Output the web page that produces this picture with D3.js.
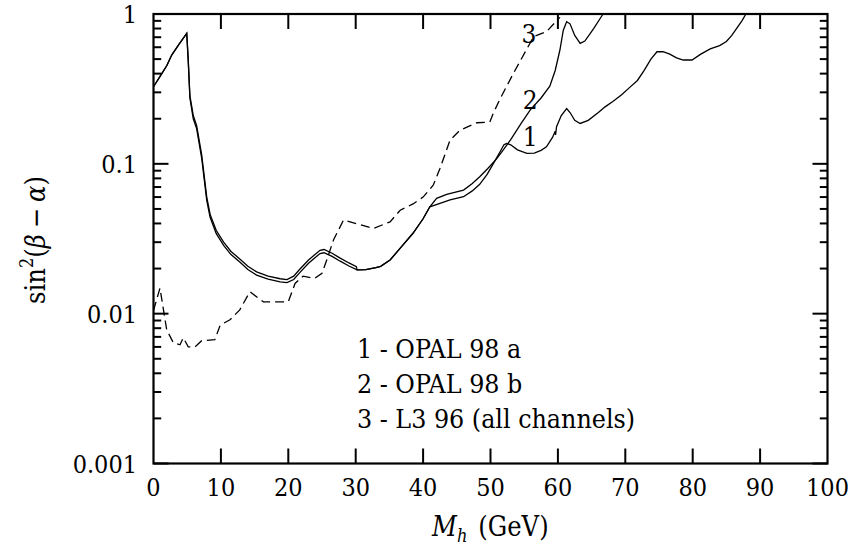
<html>
<head>
<style>
  body { margin: 0; background: #fff; }
  svg text { font-family: "DejaVu Serif Condensed", "DejaVu Serif", serif; }
</style>
</head>
<body>
<script src="https://cdn.jsdelivr.net/npm/d3@7/dist/d3.min.js"></script>
<script>
// tick values / labels
var xTicks = [0, 10, 20, 30, 40, 50, 60, 70, 80, 90, 100];
var yTicks = [0.001, 0.01, 0.1, 1];
var yTickLabels = ["0.001", "0.01", "0.1", "1"];

// curve 1 - OPAL 98 a
var opalAx = [0, 1, 2, 2.7, 3.8, 4.93, 5.15, 5.4, 5.9, 6.4, 7.15, 7.9, 8.4, 9.3, 10.4, 11.5, 12.8, 14, 15.3, 17, 18.8, 19.8, 20.8, 21.7, 23, 24.7, 25.3, 26.5, 27.7, 29, 30.2,
  31.5, 33, 33.7, 35.1, 36.8, 38.5, 40, 41, 42.5, 44, 46, 47.3, 48.4, 49.5, 50.4, 51.4, 52, 52.4, 53, 54, 55.4, 56.5, 57.5, 58.3, 59.2, 59.6, 59.65, 59.8,
  60.5, 61.3, 61.8, 62.5, 63.3, 64.5, 66, 67, 68.2, 69.5, 70.7, 71.8, 72.8, 73.8, 74.7, 75.6, 76.6, 77.6, 78.6, 79.9, 81.2, 82.6, 84, 85, 85.8, 86.5, 87.3, 87.9];
var opalAy = [0.327, 0.385, 0.455, 0.532, 0.63, 0.743, 0.49, 0.275, 0.2, 0.172, 0.109, 0.057, 0.044, 0.0343, 0.0286, 0.0248, 0.0221, 0.0197, 0.0181, 0.017, 0.0163, 0.0161, 0.0169, 0.0188, 0.0217, 0.0252, 0.0255, 0.0241, 0.0224, 0.0208, 0.0196,
  0.0197, 0.0203, 0.0207, 0.0228, 0.028, 0.0344, 0.043, 0.0517, 0.0545, 0.0575, 0.0603, 0.066, 0.073, 0.085, 0.1, 0.12, 0.134, 0.137, 0.134, 0.124, 0.1175, 0.118, 0.123, 0.13, 0.15, 0.165, 0.156, 0.177,
  0.21, 0.234, 0.22, 0.195, 0.186, 0.195, 0.22, 0.24, 0.262, 0.29, 0.325, 0.36, 0.42, 0.5, 0.56, 0.56, 0.54, 0.51, 0.493, 0.493, 0.54, 0.585, 0.615, 0.655, 0.72, 0.8, 0.9, 1.0];

// curve 2 - OPAL 98 b
var opalBx = [0, 1, 2, 2.7, 3.8, 4.93, 5.15, 5.4, 5.9, 6.4, 7.15, 7.9, 8.4, 9.3, 10.4, 11.5, 12.8, 14, 15.3, 17, 18.8, 19.8, 20.8, 21.7, 23, 24.7, 25.3, 26.5, 27.7, 29, 30.1, 30.2,
  31.5, 33, 33.7, 35.1, 36.8, 38.5, 40, 41, 42, 43.5, 46, 47.3, 48.4, 49.6, 50.9, 51.9, 53, 54.5, 55.9, 57.5, 58.8, 59.6, 60.3, 60.8, 61.3, 61.8, 62.5, 63.3, 64, 65.3, 66.7];
var opalBy = [0.327, 0.385, 0.455, 0.532, 0.63, 0.743, 0.5, 0.285, 0.21, 0.18, 0.115, 0.06, 0.046, 0.036, 0.030, 0.026, 0.0232, 0.0207, 0.019, 0.0178, 0.0171, 0.0169, 0.0178, 0.0198, 0.0228, 0.0265, 0.0268, 0.0253, 0.0235, 0.0218, 0.0206, 0.0196,
  0.0197, 0.0203, 0.0207, 0.0228, 0.028, 0.0344, 0.043, 0.0517, 0.0589, 0.0625, 0.0668, 0.074, 0.082, 0.093, 0.108, 0.124, 0.145, 0.185, 0.229, 0.275, 0.33, 0.42, 0.575, 0.78, 0.889, 0.86, 0.72, 0.637, 0.66, 0.8, 1.0];

// curve 3 - L3 96 (dashed)
var l3x = [0, 0.96, 1.96, 2.94, 3.93, 4.42, 5.16, 6.16, 7.15, 9.1, 9.9, 11.35, 12.8, 14.3, 16.3, 20, 21, 22.2, 23.9, 25, 25.7, 26.7, 28.2, 32.6, 35.1, 36.6, 38.5, 40, 41.5, 42.5, 44, 45.5, 48, 49.9, 50.4, 51.4, 53.4, 56.4, 58.3, 60.3];
var l3y = [0.0105, 0.0148, 0.0078, 0.0064, 0.0062, 0.0069, 0.006, 0.006, 0.0066, 0.0067, 0.0084, 0.0091, 0.0106, 0.014, 0.012, 0.012, 0.0159, 0.0178, 0.0172, 0.0186, 0.0228, 0.031, 0.0422, 0.037, 0.041, 0.049, 0.054, 0.06, 0.072, 0.093, 0.144, 0.168, 0.188, 0.19, 0.217, 0.27, 0.402, 0.706, 0.762, 0.95];

var legendLines = ["1 - OPAL 98 a", "2 - OPAL 98 b", "3 - L3 96 (all channels)"];

var fs = 25; // font size
var width = 848, height = 552;
var svg = d3.select("body").append("svg")
    .attr("width", width)
    .attr("height", height);

var x = d3.scaleLinear().domain([0, 100]).range([153.5, 827.5]);
var y = d3.scaleLog().domain([0.001, 1]).range([463.5, 14]);

var line = d3.line()
    .x(function (d) { return x(d[0]); })
    .y(function (d) { return y(d[1]); });

function pairs(xs, ys) { return xs.map(function (v, i) { return [v, ys[i]]; }); }

var curves = svg.append("g").attr("fill", "none").attr("stroke", "#000");
curves.append("path").attr("d", line(pairs(opalAx, opalAy))).attr("stroke-width", 1.3);
curves.append("path").attr("d", line(pairs(opalBx, opalBy))).attr("stroke-width", 1.3);
curves.append("path").attr("d", line(pairs(l3x, l3y))).attr("stroke-width", 1.3).attr("stroke-dasharray", "9,5");

// frame
svg.append("rect")
    .attr("x", x(0)).attr("y", y(1))
    .attr("width", x(100) - x(0)).attr("height", y(0.001) - y(1))
    .attr("fill", "none").attr("stroke", "#000").attr("stroke-width", 2.2);

var ticks = svg.append("g").attr("stroke", "#000").attr("stroke-width", 2);
// x ticks, bottom and top, pointing inward
xTicks.slice(1, -1).forEach(function (t) {
    ticks.append("line").attr("x1", x(t)).attr("x2", x(t)).attr("y1", y(0.001)).attr("y2", y(0.001) - 15);
    ticks.append("line").attr("x1", x(t)).attr("x2", x(t)).attr("y1", y(1)).attr("y2", y(1) + 15);
});
// y ticks, major and minor, left and right
y.ticks().forEach(function (t) {
    var major = yTicks.some(function (m) { return Math.abs(m - t) < 1e-9; });
    var len = major ? 15 : 7.7;
    ticks.append("line").attr("x1", x(0)).attr("x2", x(0) + len).attr("y1", y(t)).attr("y2", y(t));
    ticks.append("line").attr("x1", x(100)).attr("x2", x(100) - len).attr("y1", y(t)).attr("y2", y(t));
});

// tick labels
svg.append("g").selectAll("text").data(xTicks).enter().append("text")
    .attr("x", function (d) { return x(d); })
    .attr("y", 496)
    .attr("text-anchor", "middle")
    .attr("font-size", fs)
    .text(function (d) { return d; });

svg.append("g").selectAll("text").data(yTicks).enter().append("text")
    .attr("x", 137)
    .attr("y", function (d) { return y(d) + 9; })
    .attr("text-anchor", "end")
    .attr("font-size", fs)
    .text(function (d, i) { return yTickLabels[i]; });

// curve labels
var curveLabels = [["1", 55.9, 0.15], ["2", 55.9, 0.265], ["3", 55.7, 0.74]];
svg.append("g").selectAll("text").data(curveLabels).enter().append("text")
    .attr("x", function (d) { return x(d[1]); })
    .attr("y", function (d) { return y(d[2]) + 9; })
    .attr("text-anchor", "middle")
    .attr("font-size", 26)
    .text(function (d) { return d[0]; });

// legend
svg.append("g").selectAll("text").data(legendLines).enter().append("text")
    .attr("x", 357)
    .attr("y", function (d, i) { return 358 + i * 35; })
    .attr("font-size", 26.5)
    .attr("xml:space", "preserve")
    .text(function (d) { return d; });

// axis titles
var xt = svg.append("text").attr("x", 432).attr("y", 536).attr("font-size", 27);
xt.append("tspan").attr("font-style", "italic").text("M");
xt.append("tspan").attr("font-style", "italic").attr("font-size", 18).attr("dy", 6).text("h");
xt.append("tspan").attr("dy", -6).attr("dx", 11).text("(GeV)");

var yt = svg.append("text").attr("transform", "translate(45,240) rotate(-90)")
    .attr("text-anchor", "middle").attr("font-size", 27);
yt.append("tspan").text("sin");
yt.append("tspan").attr("font-size", 18).attr("dy", -12).text("2");
yt.append("tspan").attr("dy", 12).text("(");
yt.append("tspan").attr("font-style", "italic").text("β");
yt.append("tspan").attr("dx", 6).text("−");
yt.append("tspan").attr("dx", 6).attr("font-style", "italic").text("α");
yt.append("tspan").text(")");
</script>
</body>
</html>
